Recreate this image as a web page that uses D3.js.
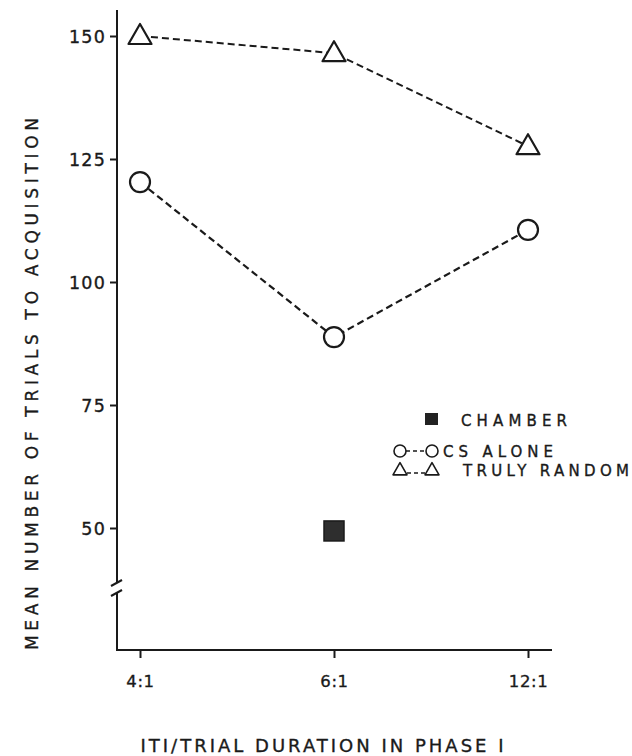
<!DOCTYPE html>
<html>
<head>
<meta charset="utf-8">
<script src="https://cdn.jsdelivr.net/npm/d3@7"></script>
<style>
  body { margin: 0; background: #fff; }
  text { font-family: "DejaVu Sans", sans-serif; fill: #1a1a1a; stroke: #1a1a1a; stroke-width: 0.35; }
  .axis path, .axis line { stroke: #1a1a1a; stroke-width: 2; }
</style>
</head>
<body>
<div id="chart"></div>
<script>
// data
const ratios = ["4:1", "6:1", "12:1"];
const csAlone = [120.3, 88.8, 110.6];
const trulyRandom = [150, 146.5, 127.6];
const chamber = [{ratio: "6:1", value: 49.4}];
const yTicks = [50, 75, 100, 125, 150];

const width = 632;
const height = 756;

const svg = d3.select("#chart").append("svg")
  .attr("width", width)
  .attr("height", height);

// scales
const x = d3.scalePoint().domain(ratios).range([140, 528]);
const y = d3.scaleLinear().domain([50, 150]).range([528, 36]);

const axisX = 117;
const baseY = 650;
const ink = "#1a1a1a";

// y axis: line with a break near the bottom
svg.append("line").attr("x1", axisX).attr("x2", axisX).attr("y1", 10).attr("y2", 583)
  .attr("stroke", ink).attr("stroke-width", 2);
svg.append("line").attr("x1", axisX).attr("x2", axisX).attr("y1", 593).attr("y2", baseY)
  .attr("stroke", ink).attr("stroke-width", 2);
[583, 593].forEach(yy => {
  svg.append("line")
    .attr("x1", axisX - 6).attr("y1", yy + 3)
    .attr("x2", axisX + 5).attr("y2", yy - 3)
    .attr("stroke", ink).attr("stroke-width", 2);
});

const yAxis = svg.append("g")
  .attr("class", "axis")
  .attr("transform", `translate(${axisX},0)`)
  .call(d3.axisLeft(y).tickValues(yTicks).tickSize(7).tickPadding(4));
yAxis.select(".domain").remove();
yAxis.selectAll("text")
  .attr("font-size", 17.5)
  .attr("letter-spacing", 1.2)
  .attr("dy", "0.36em")
  .style("font-family", "DejaVu Sans, sans-serif")
  .attr("fill", ink);

// x axis
svg.append("line").attr("x1", axisX - 1).attr("x2", 552).attr("y1", baseY).attr("y2", baseY)
  .attr("stroke", ink).attr("stroke-width", 2);
const xAxis = svg.append("g")
  .attr("class", "axis")
  .attr("transform", `translate(0,${baseY})`)
  .call(d3.axisBottom(x).tickSize(8).tickPadding(17));
xAxis.select(".domain").remove();
xAxis.selectAll("text")
  .attr("font-size", 16.5)
  .attr("letter-spacing", 0.6)
  .style("font-family", "DejaVu Sans, sans-serif")
  .attr("fill", ink);

// axis titles
svg.append("text")
  .attr("x", 322).attr("y", 752)
  .attr("text-anchor", "middle")
  .attr("font-size", 18)
  .attr("textLength", 363).attr("lengthAdjust", "spacing")
  .text("ITI/TRIAL DURATION IN PHASE I");

svg.append("text")
  .attr("transform", "translate(38,384) rotate(-90)")
  .attr("text-anchor", "middle")
  .attr("font-size", 17)
  .attr("textLength", 532).attr("lengthAdjust", "spacing")
  .text("MEAN NUMBER OF TRIALS TO ACQUISITION");

// lines
const line = d3.line()
  .x((d, i) => x(ratios[i]))
  .y(d => y(d));

const triPath = (cx, cy, s) => {
  const h = s * 0.87;
  return `M${cx},${cy - h * 0.6}L${cx + s / 2},${cy + h * 0.4}L${cx - s / 2},${cy + h * 0.4}Z`;
};

svg.append("path")
  .datum(trulyRandom)
  .attr("d", line)
  .attr("fill", "none")
  .attr("stroke", ink)
  .attr("stroke-width", 2)
  .attr("stroke-dasharray", "7,4");

svg.append("path")
  .datum(csAlone)
  .attr("d", line)
  .attr("fill", "none")
  .attr("stroke", ink)
  .attr("stroke-width", 2.2)
  .attr("stroke-dasharray", "7,4");

// markers
svg.selectAll(".tri")
  .data(trulyRandom)
  .enter().append("path")
    .attr("class", "tri")
    .attr("d", (d, i) => triPath(x(ratios[i]), y(d), 23))
    .attr("fill", "#fff")
    .attr("stroke", ink)
    .attr("stroke-width", 2.2)
    .attr("stroke-linejoin", "round");

svg.selectAll(".circ")
  .data(csAlone)
  .enter().append("circle")
    .attr("class", "circ")
    .attr("cx", (d, i) => x(ratios[i]))
    .attr("cy", d => y(d))
    .attr("r", 10)
    .attr("fill", "#fff")
    .attr("stroke", ink)
    .attr("stroke-width", 2.2);

svg.selectAll(".sq")
  .data(chamber)
  .enter().append("rect")
    .attr("class", "sq")
    .attr("x", d => x(d.ratio) - 10)
    .attr("y", d => y(d.value) - 10)
    .attr("width", 20)
    .attr("height", 20)
    .attr("fill", "#2e2e2e")
    .attr("stroke", "#1a1a1a")
    .attr("stroke-width", 1.5);

// legend
const legend = svg.append("g");
legend.append("rect")
  .attr("x", 425).attr("y", 413).attr("width", 13).attr("height", 12)
  .attr("fill", "#222");
legend.append("text")
  .attr("x", 461).attr("y", 426)
  .attr("font-size", 15)
  .attr("textLength", 106).attr("lengthAdjust", "spacing")
  .text("CHAMBER");

legend.append("line")
  .attr("x1", 406).attr("x2", 426).attr("y1", 451).attr("y2", 451)
  .attr("stroke", ink).attr("stroke-width", 1.5).attr("stroke-dasharray", "4,3");
[400, 432].forEach(cx => {
  legend.append("circle").attr("cx", cx).attr("cy", 451).attr("r", 6)
    .attr("fill", "#fff").attr("stroke", ink).attr("stroke-width", 1.6);
});
legend.append("text")
  .attr("x", 443).attr("y", 457)
  .attr("font-size", 15)
  .attr("textLength", 110).attr("lengthAdjust", "spacing")
  .text("CS ALONE");

legend.append("line")
  .attr("x1", 407).attr("x2", 425).attr("y1", 473).attr("y2", 473)
  .attr("stroke", ink).attr("stroke-width", 1.5).attr("stroke-dasharray", "4,3");
[400, 432].forEach(cx => {
  legend.append("path").attr("d", triPath(cx, 470, 14))
    .attr("fill", "#fff").attr("stroke", ink).attr("stroke-width", 1.6)
    .attr("stroke-linejoin", "round");
});
legend.append("text")
  .attr("x", 463).attr("y", 476)
  .attr("font-size", 15)
  .attr("textLength", 166).attr("lengthAdjust", "spacing")
  .text("TRULY RANDOM");
</script>
</body>
</html>
